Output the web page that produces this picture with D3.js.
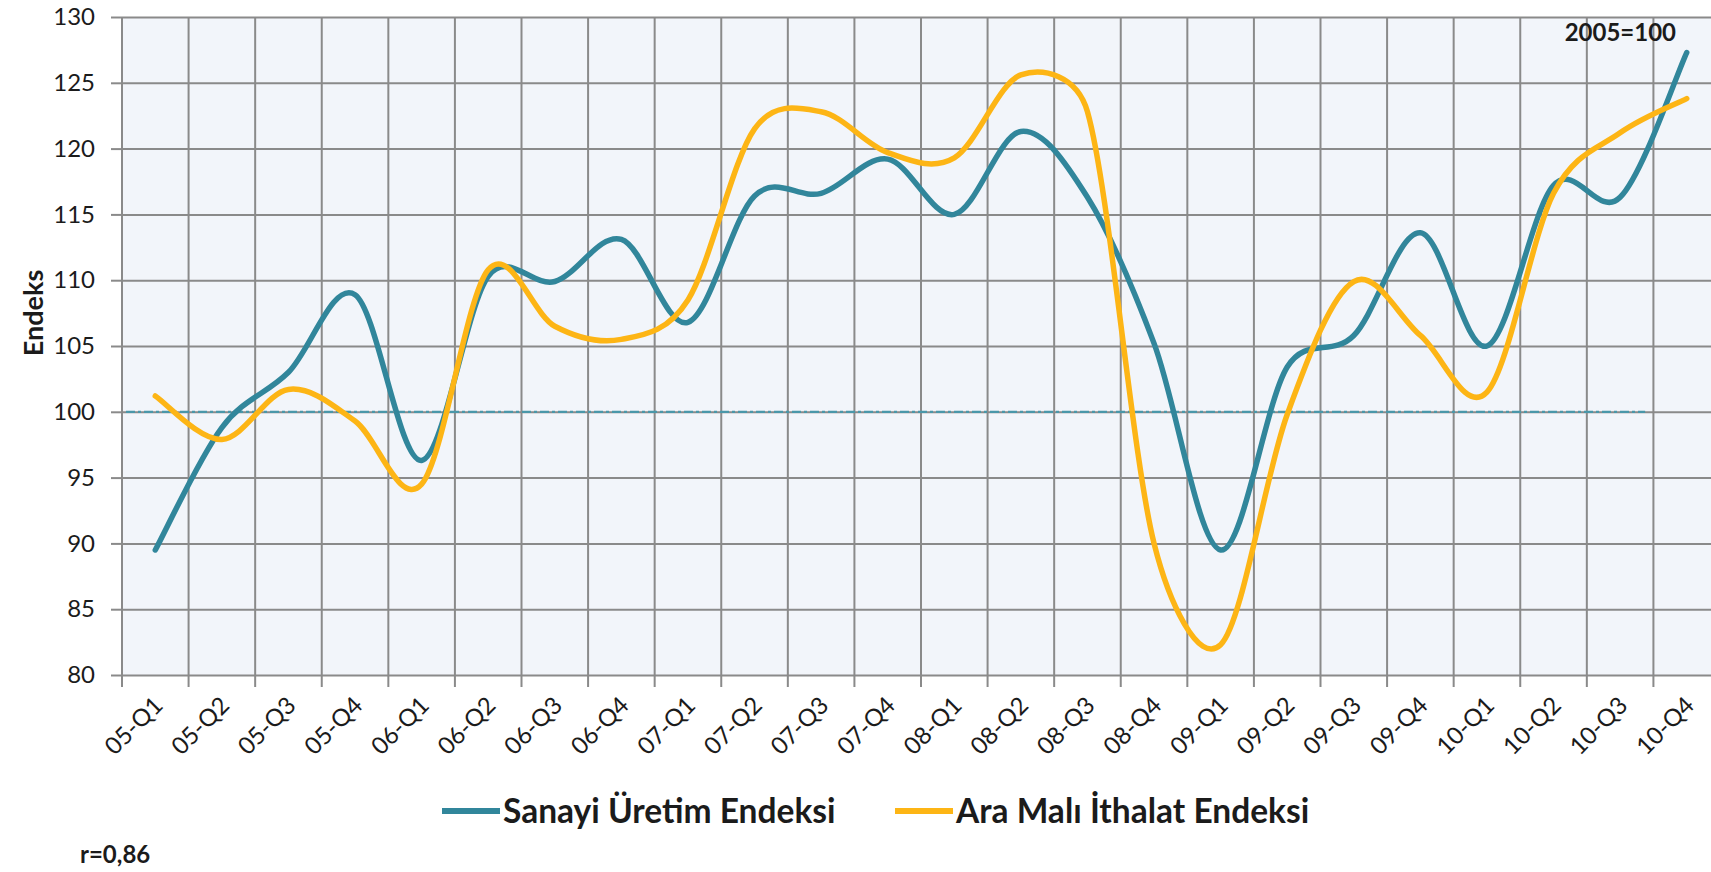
<!DOCTYPE html>
<html>
<head>
<meta charset="utf-8">
<script src="https://d3js.org/d3.v7.min.js"></script>
<style>
body { margin: 0; background: #ffffff; }
svg { display: block; }
text { font-family: Lato, "Open Sans", sans-serif; fill: #1b1b1b; }
</style>
</head>
<body>
<script>
// Sanayi uretim vs ara mali ithalat, ceyreklik, 2005=100

var quarters = ["05-Q1","05-Q2","05-Q3","05-Q4","06-Q1","06-Q2","06-Q3","06-Q4",
                "07-Q1","07-Q2","07-Q3","07-Q4","08-Q1","08-Q2","08-Q3","08-Q4",
                "09-Q1","09-Q2","09-Q3","09-Q4","10-Q1","10-Q2","10-Q3","10-Q4"];

var sanayi  = [89.5, 98.8, 103.0, 108.9, 96.3, 110.3, 109.9, 113.1,
               106.8, 116.4, 116.6, 119.2, 115.0, 121.3, 116.3, 105.2,
               89.5, 103.4, 105.8, 113.6, 105.0, 117.2, 116.3, 127.3];

var araMali = [101.2, 97.9, 101.7, 99.3, 94.5, 110.8, 106.5, 105.5,
               108.5, 121.5, 122.8, 119.7, 119.3, 125.6, 122.8, 90.0,
               82.3, 99.8, 109.9, 105.8, 101.5, 116.6, 121.2, 123.8];

var yTicks = [80, 85, 90, 95, 100, 105, 110, 115, 120, 125, 130];
var baseValue = 100;
var seriesNames = ["Sanayi Üretim Endeksi", "Ara Malı İthalat Endeksi"];
var seriesColors = ["#31869b", "#fdb515"];
var baseLabel = "2005=100";
var corrLabel = "r=0,86";
var yTitle = "Endeks";

var width = 1711, height = 872;
var plot = {left: 122, top: 17, right: 1720, bottom: 675};

//smoothed line like the spreadsheet one: 1/6 tangents, but a handle
//never longer than half of its segment (stops the big overshoots)
function SmoothCurve(context){ this._context = context; }
SmoothCurve.prototype = {
  areaStart: function(){}, areaEnd: function(){},
  lineStart: function(){ this._pts = []; },
  point: function(x, y){ this._pts.push([+x, +y]); },
  lineEnd: function(){
    var p = this._pts, c = this._context, n = p.length;
    if (!n) return;
    c.moveTo(p[0][0], p[0][1]);
    for (var i = 0; i < n - 1; i++){
      var p0 = p[Math.max(i-1, 0)], p1 = p[i], p2 = p[i+1], p3 = p[Math.min(i+2, n-1)];
      var seg = Math.hypot(p2[0]-p1[0], p2[1]-p1[1]) * 0.5;
      var a = [(p2[0]-p0[0])/6, (p2[1]-p0[1])/6];
      var b = [(p3[0]-p1[0])/6, (p3[1]-p1[1])/6];
      var la = Math.hypot(a[0], a[1]), lb = Math.hypot(b[0], b[1]);
      if (la > seg){ a = [a[0]*seg/la, a[1]*seg/la]; }
      if (lb > seg){ b = [b[0]*seg/lb, b[1]*seg/lb]; }
      c.bezierCurveTo(p1[0]+a[0], p1[1]+a[1], p2[0]-b[0], p2[1]-b[1], p2[0], p2[1]);
    }
  }
};
var curveSmooth = function(context){ return new SmoothCurve(context); };

var svg = d3.select("body").append("svg")
  .attr("width", width)
  .attr("height", height);

var defs = svg.append("defs");
defs.append("filter").attr("id", "soft")
  .attr("y", "-300%").attr("height", "700%")
  .append("feGaussianBlur").attr("stdDeviation", 3.5);

var x = d3.scaleBand()
  .domain(quarters)
  .range([plot.left, plot.right]);

var y = d3.scaleLinear()
  .domain([80, 130])
  .range([plot.bottom, plot.top]);

var cx = function(q){ return x(q) + x.bandwidth()/2; };

//plot background
svg.append("rect")
  .attr("x", plot.left).attr("y", plot.top)
  .attr("width", plot.right - plot.left)
  .attr("height", plot.bottom - plot.top)
  .attr("fill", "#f2f5fa");

//horizontal grid, with the little tick marks on the left
var yGrid = svg.append("g")
  .attr("transform", "translate(" + plot.left + ",0)")
  .call(d3.axisLeft(y).tickValues(yTicks).tickSize(-(plot.right - plot.left)).tickFormat(""));
yGrid.select(".domain").remove();
yGrid.selectAll("line").attr("stroke", "#8a8a8a").attr("stroke-width", 2);

var yAx = svg.append("g")
  .attr("transform", "translate(" + plot.left + ",0)")
  .call(d3.axisLeft(y).tickValues(yTicks).tickSize(11).tickPadding(16));
yAx.select(".domain").remove();
yAx.selectAll("line").attr("stroke", "#8a8a8a").attr("stroke-width", 2);
yAx.selectAll("text")
  .style("font-size", "24px")
  .attr("fill", "#1b1b1b");

//vertical grid on band edges
var edges = quarters.map(function(q){ return x(q); });
edges.push(plot.right);
svg.append("g").selectAll("line")
  .data(edges)
  .enter().append("line")
  .attr("x1", function(d){ return d; })
  .attr("x2", function(d){ return d; })
  .attr("y1", plot.top)
  .attr("y2", plot.bottom + 12)
  .attr("stroke", "#8a8a8a")
  .attr("stroke-width", 2);

//x labels, rotated
var xAx = svg.append("g")
  .attr("transform", "translate(0," + plot.bottom + ")")
  .call(d3.axisBottom(x).tickSize(0).tickPadding(0));
xAx.select(".domain").remove();
xAx.selectAll("text")
  .style("font-size", "24px")
  .attr("fill", "#1b1b1b")
  .attr("text-anchor", "end")
  .attr("x", 0).attr("y", 0).attr("dy", "0.35em")
  .attr("transform", "translate(3,26) rotate(-45)");

//reference line at 100
svg.append("line")
  .attr("x1", plot.left + 4).attr("x2", cx("10-Q3") + 25)
  .attr("y1", y(baseValue)).attr("y2", y(baseValue))
  .attr("stroke", "#c9dfea").attr("stroke-width", 14)
  .attr("opacity", 0.9)
  .attr("filter", "url(#soft)");
svg.append("line")
  .attr("x1", plot.left + 4).attr("x2", cx("10-Q3") + 25)
  .attr("y1", y(baseValue)).attr("y2", y(baseValue))
  .attr("stroke", "#4a97a9").attr("stroke-width", 2.2)
  .attr("stroke-dasharray", "9,3,3,3");

//series
var line = d3.line()
  .x(function(d, i){ return cx(quarters[i]); })
  .y(function(d){ return y(d); })
  .curve(curveSmooth);

[sanayi, araMali].forEach(function(s, i){
  svg.append("path")
    .datum(s)
    .attr("d", line)
    .attr("fill", "none")
    .attr("stroke", seriesColors[i])
    .attr("stroke-width", 5.5)
    .attr("stroke-linecap", "round")
    .attr("stroke-linejoin", "round");
});

//texts
svg.append("text")
  .attr("transform", "translate(43,313) rotate(-90)")
  .attr("text-anchor", "middle")
  .style("font-size", "27px")
  .style("font-weight", "bold")
  .text(yTitle);

svg.append("text")
  .attr("x", 1676).attr("y", 41)
  .attr("text-anchor", "end")
  .style("font-size", "24px")
  .style("font-weight", "bold")
  .text(baseLabel);

svg.append("text")
  .attr("x", 80).attr("y", 863)
  .style("font-size", "24px")
  .style("font-weight", "bold")
  .text(corrLabel);

//legend
var legendX = [442, 895];
seriesNames.forEach(function(name, i){
  var g = svg.append("g").attr("transform", "translate(" + legendX[i] + ",811)");
  g.append("line")
    .attr("x1", 0).attr("x2", 58)
    .attr("stroke", seriesColors[i])
    .attr("stroke-width", 6);
  g.append("text")
    .attr("x", 61).attr("dy", "0.35em")
    .style("font-size", "33.5px")
    .style("font-weight", "bold")
    .text(name);
});
</script>
</body>
</html>
